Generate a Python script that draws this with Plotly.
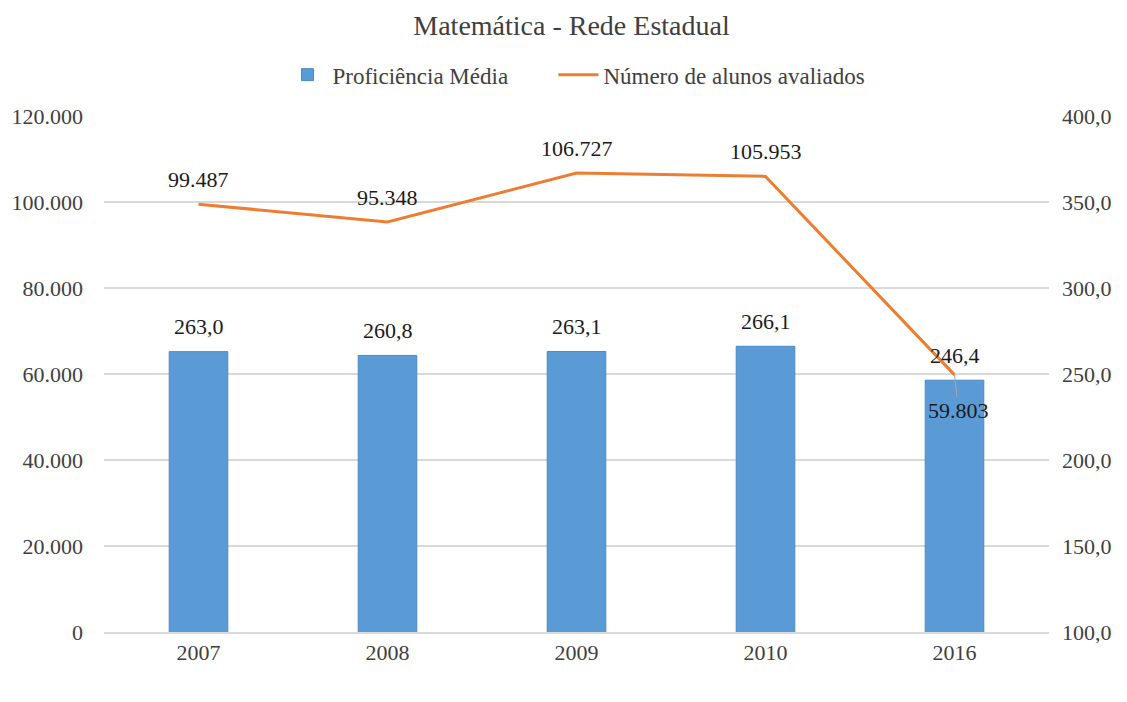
import plotly.graph_objects as go

anos = ["2007", "2008", "2009", "2010", "2016"]
proficiencia = [263.0, 260.8, 263.1, 266.1, 246.4]
alunos = [99487, 95348, 106727, 105953, 59803]

FONT = "Liberation Serif"
TXT = "#404040"
LBL = "#1a1a1a"

def fmt_milhar(v):
    return f"{v:,}".replace(",", ".")

def fmt_dec(v):
    return f"{v:.1f}".replace(".", ",")

fig = go.Figure()
fig.add_trace(go.Bar(
    x=anos, y=proficiencia, name="Proficiência Média       ",
    marker=dict(color="#5B9BD5", line=dict(color="#4A8AC4", width=1)),
    yaxis="y",
))
fig.add_trace(go.Scatter(
    x=anos, y=alunos, name="Número de alunos avaliados",
    mode="lines", line=dict(color="#ED7D31", width=3),
    yaxis="y2",
))

for i, v in enumerate(proficiencia):
    fig.add_annotation(x=i, y=v, xref="x", yref="y", text=fmt_dec(v),
                       showarrow=False, yshift=25,
                       font=dict(family=FONT, size=22, color=LBL))

for i, v in enumerate(alunos[:-1]):
    fig.add_annotation(x=i, y=v, xref="x", yref="y2", text=fmt_milhar(v),
                       showarrow=False, yshift=25,
                       font=dict(family=FONT, size=22, color=LBL))

fig.add_annotation(
    x=len(anos) - 1, y=alunos[-1], xref="x", yref="y2",
    text=fmt_milhar(alunos[-1]),
    showarrow=True, arrowhead=0, arrowwidth=1, arrowcolor="#A6A6A6",
    ax=4, ay=36, standoff=0,
    font=dict(family=FONT, size=22, color=LBL),
)

fig.update_layout(
    width=1127, height=702,
    separators=",.",
    paper_bgcolor="white", plot_bgcolor="white",
    margin=dict(l=96, r=86, t=108, b=78, autoexpand=False),
    title=dict(text="Matemática - Rede Estadual", x=0.5, xanchor="center",
               y=0.975, yanchor="middle",
               font=dict(family=FONT, size=28, color=TXT)),
    legend=dict(orientation="h", x=0.5, xanchor="center", y=1.08, yanchor="middle",
                font=dict(family=FONT, size=23, color=TXT),
                traceorder="normal", itemwidth=40),
    bargap=0.69,
    xaxis=dict(type="category", showgrid=False, showline=True, linecolor="#D9D9D9",
               linewidth=1.5, ticks="", automargin=False,
               tickfont=dict(family=FONT, size=22, color=TXT)),
    yaxis=dict(side="right", range=[100, 400], dtick=50, tickformat=".1f",
               showgrid=True, gridcolor="#D9D9D9", gridwidth=1.5, zeroline=False,
               ticks="", automargin=False,
               tickfont=dict(family=FONT, size=22, color=TXT),
               ticklabelstandoff=12),
    yaxis2=dict(side="left", overlaying="y", range=[0, 120000], dtick=20000,
                tickformat=",.0f", showgrid=False, zeroline=False, ticks="",
                automargin=False,
                tickfont=dict(family=FONT, size=22, color=TXT),
                ticklabelstandoff=20),
)

fig.write_html("out.html")
